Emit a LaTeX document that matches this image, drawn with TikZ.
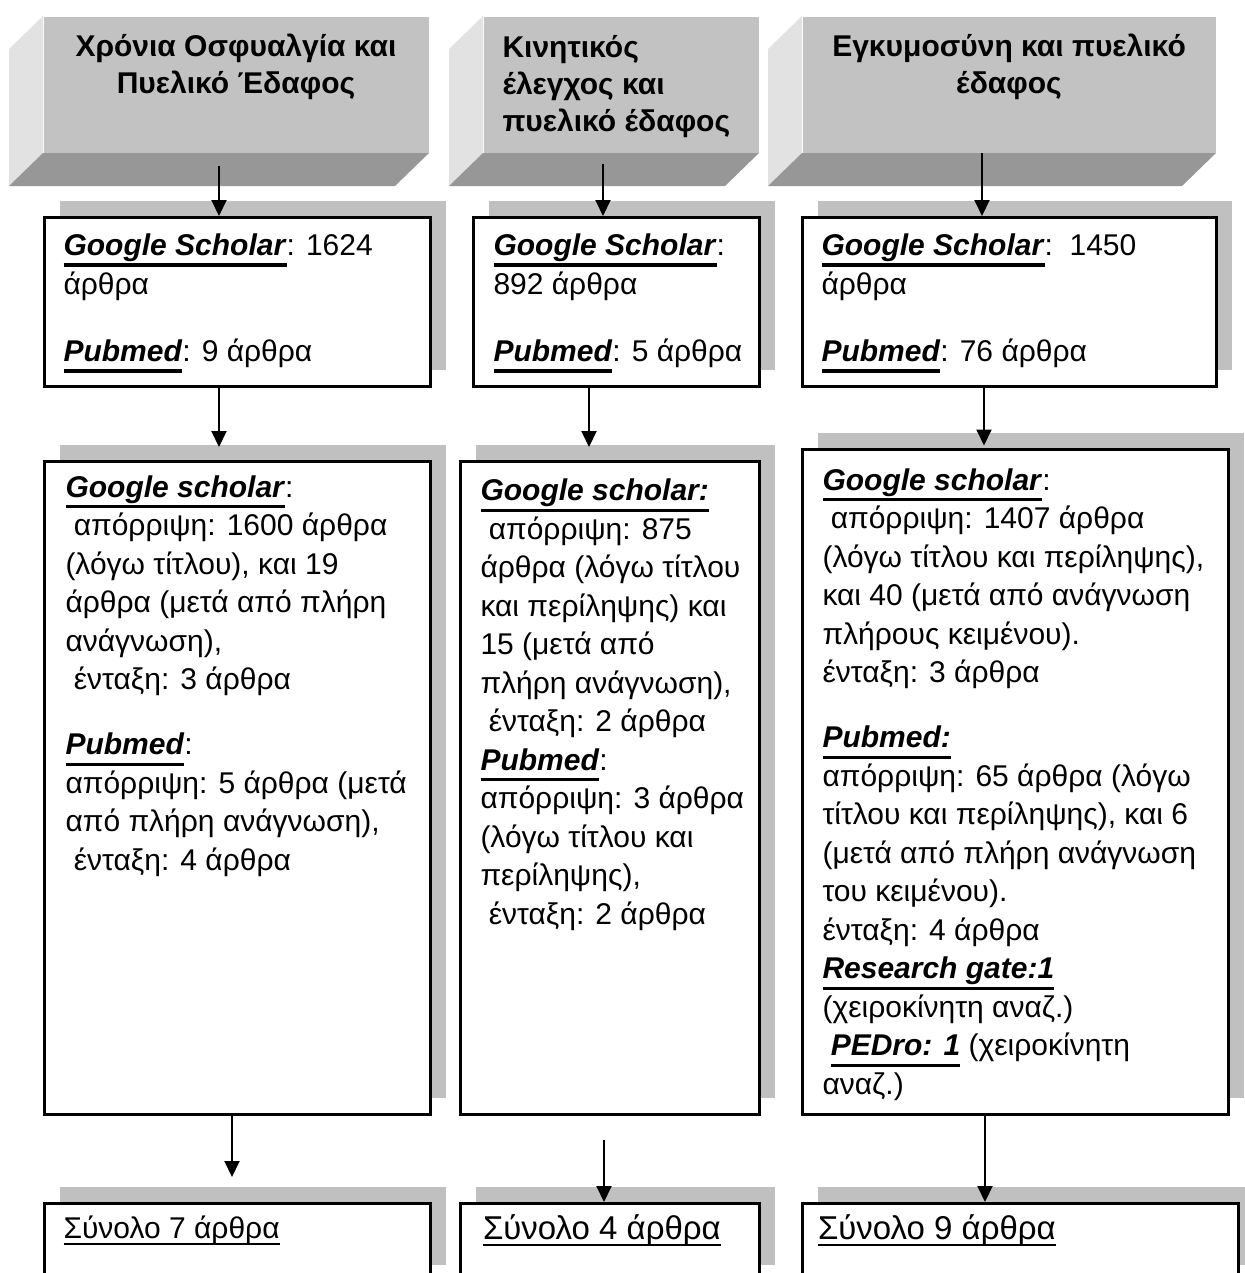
\documentclass[tikz,border=0pt]{standalone}
\usepackage{fontspec}
\setmainfont{Liberation Sans}
\usetikzlibrary{positioning,shadows,arrows.meta}

\definecolor{facegray}{RGB}{194,194,194}
\definecolor{sidegray}{RGB}{226,226,226}
\definecolor{basegray}{RGB}{151,151,151}
\definecolor{shadegray}{RGB}{192,192,192}

% underlined source names and totals
\newcommand{\srcname}[1]{\leavevmode\setbox0=\hbox{\textbf{\textit{#1}}}\rlap{\rule[-4.4pt]{\wd0}{1.3pt}}\box0\relax}
\newcommand{\sumline}[1]{\leavevmode\setbox0=\hbox{#1}\rlap{\rule[-2.6pt]{\wd0}{0.8pt}}\box0\relax}
\newcommand{\lead}{\hspace*{3.3pt}}

\tikzset{
  face/.style={fill=facegray, minimum height=54.4pt, anchor=north west, inner sep=0pt},
  headtext/.style={font=\fontsize{12pt}{14.8pt}\selectfont\bfseries, inner sep=0pt, execute at begin node=\strut},
  box/.style={draw, line width=1pt, fill=white, anchor=north west, inner sep=0pt,
    drop shadow={shadow xshift=6.4pt, shadow yshift=6.4pt, fill=shadegray, opacity=1}},
  boxtext/.style={font=\fontsize{12pt}{15.4pt}\selectfont, align=left, inner sep=0pt, execute at begin node=\strut},
  arr/.style={-{Triangle[width=6pt,length=6.4pt]}, line width=0.8pt},
}

\begin{document}
\begin{tikzpicture}[x=0.4pt, y=-0.4pt]
\useasboundingbox (0,0) rectangle (1245,1273);

% headers
\node[face, minimum width=154pt] (h1) at (43,16) {};
\node[face, minimum width=110pt] (h2) at (483,16) {};
\node[face, minimum width=165.2pt] (h3) at (802,16) {};
\foreach \h in {h1,h2,h3} {
  \fill[sidegray] (\h.north west) -- (\h.south west) -- ([shift={(-34,33)}]\h.south west) -- ([shift={(-34,33)}]\h.north west) -- cycle;
  \fill[basegray] (\h.south west) -- (\h.south east) -- ([shift={(-34,33)}]\h.south east) -- ([shift={(-34,33)}]\h.south west) -- cycle;
}
\node[headtext, align=center, below=6.8pt of h1.north] (ht1) {Χρόνια Οσφυαλγία και\\ Πυελικό Έδαφος};
\node[headtext, align=left, below right=7.6pt and 7.6pt of h2.north west] (ht2) {Κινητικός\\ έλεγχος και\\ πυελικό έδαφος};
\node[headtext, align=center, below=6.8pt of h3.north] (ht3) {Εγκυμοσύνη και πυελικό\\ έδαφος};

% search results
\node[box, minimum width=154.4pt, minimum height=67.6pt] (gs1) at (43,216) {};
\node[box, minimum width=114.4pt, minimum height=67.6pt] (gs2) at (472,216) {};
\node[box, minimum width=165.6pt, minimum height=67.6pt] (gs3) at (801,216) {};
\node[boxtext, below right=7pt and 8pt of gs1.north west] (gt1) {\srcname{Google Scholar}: 1624\\ άρθρα\\[11.6pt] \srcname{Pubmed}: 9 άρθρα};
\node[boxtext, below right=7pt and 8.4pt of gs2.north west] (gt2) {\srcname{Google Scholar}:\\ 892 άρθρα\\[11.6pt] \srcname{Pubmed}: 5 άρθρα};
\node[boxtext, below right=7pt and 8pt of gs3.north west] (gt3) {\srcname{Google Scholar}:\ \ 1450\\ άρθρα\\[11.6pt] \srcname{Pubmed}: 76 άρθρα};

% screening
\node[box, minimum width=154.4pt, minimum height=261.2pt] (sc1) at (43,460) {};
\node[box, minimum width=119.6pt, minimum height=261.2pt] (sc2) at (459,460) {};
\node[box, minimum width=170.4pt, minimum height=266pt] (sc3) at (801,448) {};
\node[boxtext, below right=6pt and 8.8pt of sc1.north west] (st1) {\srcname{Google scholar}:\\
  \lead απόρριψη: 1600 άρθρα\\
  (λόγω τίτλου), και 19\\
  άρθρα (μετά από πλήρη\\
  ανάγνωση),\\
  \lead ένταξη: 3 άρθρα\\[10.6pt]
  \srcname{Pubmed}:\\
  απόρριψη: 5 άρθρα (μετά\\
  από πλήρη ανάγνωση),\\
  \lead ένταξη: 4 άρθρα};
\node[boxtext, below right=7.4pt and 8.4pt of sc2.north west] (st2) {\srcname{Google scholar:}\\
  \lead απόρριψη: 875\\
  άρθρα (λόγω τίτλου\\
  και περίληψης) και\\
  15 (μετά από\\
  πλήρη ανάγνωση),\\
  \lead ένταξη: 2 άρθρα\\
  \srcname{Pubmed}:\\
  απόρριψη: 3 άρθρα\\
  (λόγω τίτλου και\\
  περίληψης),\\
  \lead ένταξη: 2 άρθρα};
\node[boxtext, below right=8pt and 8.4pt of sc3.north west] (st3) {\srcname{Google scholar}:\\
  \lead απόρριψη: 1407 άρθρα\\
  (λόγω τίτλου και περίληψης),\\
  και 40 (μετά από ανάγνωση\\
  πλήρους κειμένου).\\
  ένταξη: 3 άρθρα\\[10.6pt]
  \srcname{Pubmed:}\\
  απόρριψη: 65 άρθρα (λόγω\\
  τίτλου και περίληψης), και 6\\
  (μετά από πλήρη ανάγνωση\\
  του κειμένου).\\
  ένταξη: 4 άρθρα\\
  \srcname{Research gate:1}\\
  (χειροκίνητη αναζ.)\\
  \lead\srcname{PEDro: 1} (χειροκίνητη\\
  αναζ.)};

% totals
\node[box, minimum width=154.4pt, minimum height=31pt] (tot1) at (43,1202) {};
\node[box, minimum width=119.6pt, minimum height=31pt] (tot2) at (459,1202) {};
\node[box, minimum width=174.4pt, minimum height=31pt] (tot3) at (801,1202) {};
\node[boxtext, below right=3.6pt and 8pt of tot1.north west] (tt1) {\sumline{Σύνολο 7 άρθρα}};
\node[boxtext, font=\fontsize{13.2pt}{15.4pt}\selectfont, below right=4.2pt and 9.4pt of tot2.north west] (tt2) {\sumline{Σύνολο 4 άρθρα}};
\node[boxtext, font=\fontsize{13.2pt}{15.4pt}\selectfont, below right=4.2pt and 6.6pt of tot3.north west] (tt3) {\sumline{Σύνολο 9 άρθρα}};

% arrows
\coordinate (a1) at (219,0);
\coordinate (a2) at (603,0);
\coordinate (a3) at (982,0);
\coordinate (b2) at (589,0);
\coordinate (b3) at (984,0);
\coordinate (c1) at (232,0);
\coordinate (c2) at (604,0);
\coordinate (c3) at (985,0);
\draw[arr, shorten <=5.2pt] (h1.south -| a1) -- (gs1.north -| a1);
\draw[arr, shorten <=4.4pt] (h2.south -| a2) -- (gs2.north -| a2);
\draw[arr] (h3.south -| a3) -- (gs3.north -| a3);
\draw[arr, shorten >=5.2pt] (gs1.south -| a1) -- (sc1.north -| a1);
\draw[arr, shorten >=5.2pt] (gs2.south -| b2) -- (sc2.north -| b2);
\draw[arr, shorten >=1pt] (gs3.south -| b3) -- (sc3.north -| b3);
\draw[arr, shorten >=10pt] (sc1.south -| c1) -- (tot1.north -| c1);
\draw[arr, shorten <=9.6pt] (sc2.south -| c2) -- (tot2.north -| c2);
\draw[arr] (sc3.south -| c3) -- (tot3.north -| c3);
\end{tikzpicture}
\end{document}
